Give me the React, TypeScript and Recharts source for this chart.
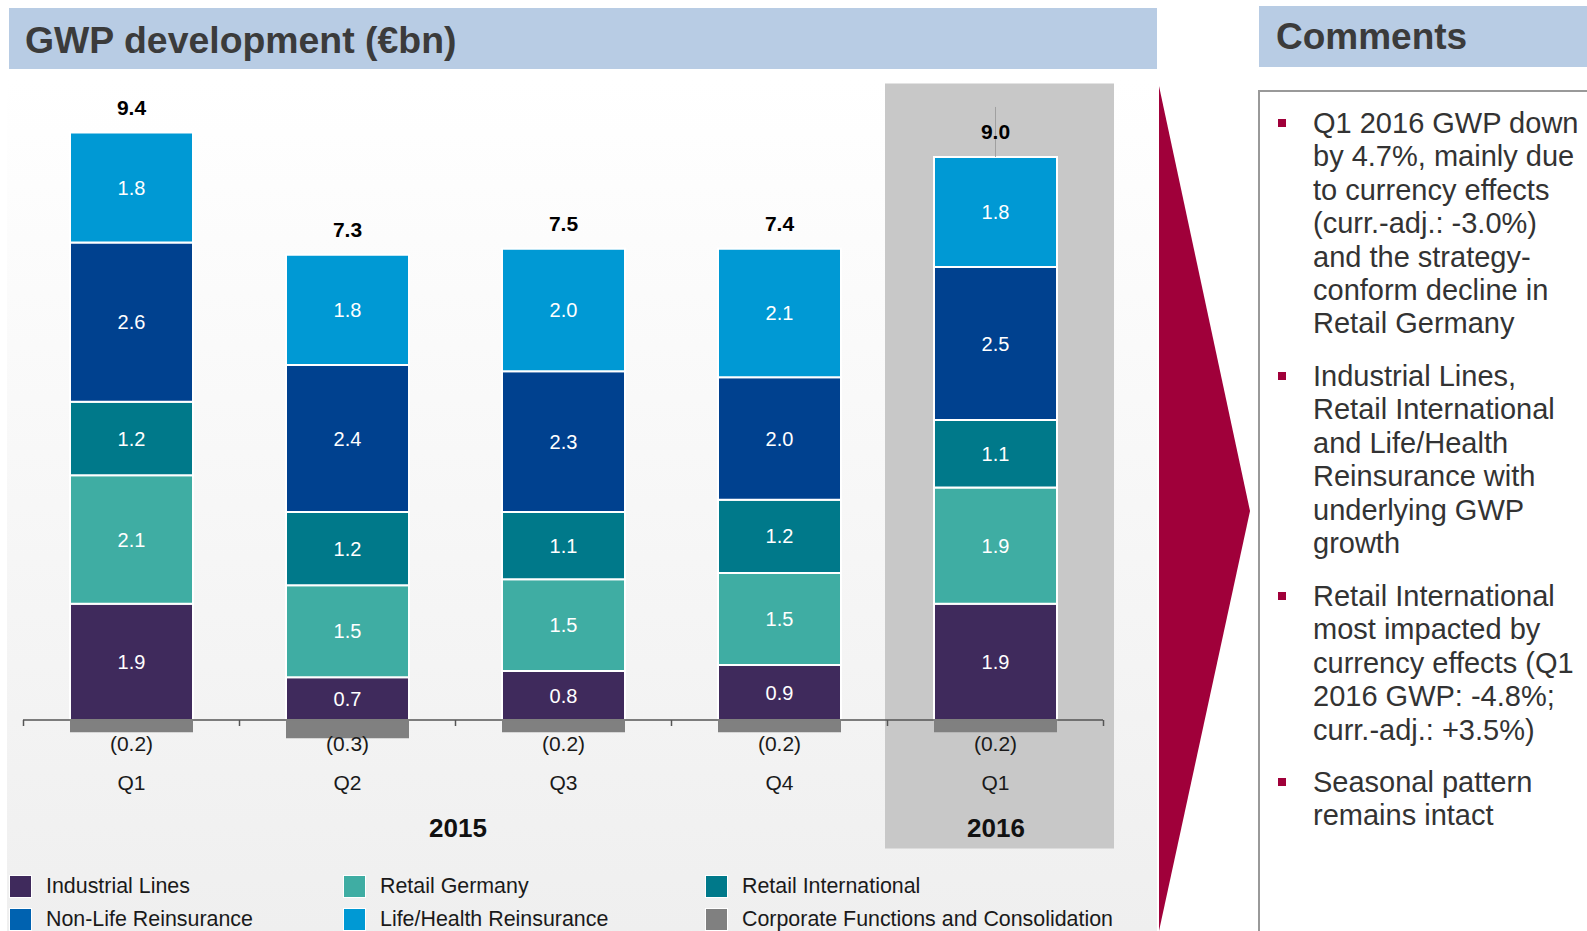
import { BarChart, Bar, XAxis, YAxis, ReferenceLine, ReferenceArea, LabelList, Label } from "recharts"

const quarters = ["Q1 2015", "Q2 2015", "Q3 2015", "Q4 2015", "Q1 2016"]
const quarterLabels = ["Q1", "Q2", "Q3", "Q4", "Q1"]
const industrialLines = [1.9, 0.7, 0.8, 0.9, 1.9]
const retailGermany = [2.1, 1.5, 1.5, 1.5, 1.9]
const retailInternational = [1.2, 1.2, 1.1, 1.2, 1.1]
const nonLifeReinsurance = [2.6, 2.4, 2.3, 2.0, 2.5]
const lifeHealthReinsurance = [1.8, 1.8, 2.0, 2.1, 1.8]
const corporateFunctions = [-0.2, -0.3, -0.2, -0.2, -0.2]
const totals = [9.4, 7.3, 7.5, 7.4, 9.0]

const legendRows = [
  [
    { name: "Industrial Lines", color: "#3f2a5c" },
    { name: "Retail Germany", color: "#3fada3" },
    { name: "Retail International", color: "#00798a" },
  ],
  [
    { name: "Non-Life Reinsurance", color: "#0062b0" },
    { name: "Life/Health Reinsurance", color: "#0099d4" },
    { name: "Corporate Functions and Consolidation", color: "#808080" },
  ],
]

const comments = [
  ["Q1 2016 GWP down", "by 4.7%, mainly due", "to currency effects", "(curr.-adj.: -3.0%)", "and the strategy-", "conform decline in", "Retail Germany"],
  ["Industrial Lines,", "Retail International", "and Life/Health", "Reinsurance with", "underlying GWP", "growth"],
  ["Retail International", "most impacted by", "currency effects (Q1", "2016 GWP: -4.8%;", "curr.-adj.: +3.5%)"],
  ["Seasonal pattern", "remains intact"],
]
const commentTops = [107, 360, 580, 766]

const data = quarters.map((quarter, i) => ({
  quarter,
  industrial: industrialLines[i],
  retailDe: retailGermany[i],
  retailIntl: retailInternational[i],
  nonLife: nonLifeReinsurance[i],
  lifeHealth: lifeHealthReinsurance[i],
  corporate: corporateFunctions[i],
}))

const CHART_W = 1160
const MARGIN = { top: 83.5, right: 57, bottom: 82.5, left: 23 }
const BAR_W = 123
const BAND = (CHART_W - MARGIN.left - MARGIN.right) / quarters.length

const FONT = "'Liberation Sans', Arial, sans-serif"

function box(props: any) {
  const vb = props.viewBox && props.viewBox.width !== undefined ? props.viewBox : props
  return { x: Number(vb.x), y: Number(vb.y), width: Number(vb.width), height: Number(vb.height) }
}

function TotalLabel(props: any) {
  const { x, y, width, height } = box(props)
  const index = props.index
  const cx = x + width / 2
  const top = Math.min(y, y + (height || 0))
  return (
    <g>
      {index === totals.length - 1 && (
        <line x1={cx} x2={cx} y1={top - 50} y2={top} stroke="#a0a0a0" strokeWidth={1} />
      )}
      <text x={cx} y={top - 25} textAnchor="middle" dominantBaseline="central" fontSize={21} fontWeight="bold" fill="#000">
        {totals[index].toFixed(1)}
      </text>
    </g>
  )
}

function AxisLabel(props: any) {
  const { x, y, width, height } = box(props)
  const index = props.index
  const zeroY = Math.min(y, y + height)
  const cx = x + width / 2
  const gap = (BAND - width) / 2
  return (
    <g>
      <line x1={x - gap} x2={x - gap} y1={zeroY} y2={zeroY + 6} stroke="#555" strokeWidth={1.5} />
      {index === quarters.length - 1 && (
        <line x1={x + width + gap} x2={x + width + gap} y1={zeroY} y2={zeroY + 6} stroke="#555" strokeWidth={1.5} />
      )}
      <text x={cx} y={zeroY + 24} textAnchor="middle" dominantBaseline="central" fontSize={21} fill="#1a1a1a">
        ({Math.abs(corporateFunctions[index]).toFixed(1)})
      </text>
      <text x={cx} y={zeroY + 63} textAnchor="middle" dominantBaseline="central" fontSize={21} fill="#1a1a1a">
        {quarterLabels[index]}
      </text>
    </g>
  )
}

// highlight box for 2016 is a little wider than its band
function HighlightShape(props: any) {
  const { x, y, width, height } = props
  return <rect x={x - 2} y={y} width={width + 13} height={height} fill="#c8c8c8" />
}

const segLabel = {
  position: "center" as const,
  fill: "#fff",
  stroke: "none",
  fontSize: 20,
  formatter: (v: any) => Number(v).toFixed(1),
}

export default function App() {
  return (
    <div style={{ position: "absolute", left: 0, top: 0, width: 1587, height: 931, overflow: "hidden", background: "#fff", fontFamily: FONT }}>
      {/* title bar */}
      <div style={{ position: "absolute", left: 9, top: 8, width: 1148, height: 61, background: "#b8cce4" }} />
      <div style={{ position: "absolute", left: 25, top: 8, height: 61, paddingTop: 3, boxSizing: "border-box", display: "flex", alignItems: "center", fontSize: 37.4, fontWeight: "bold", color: "#3b3b3b", whiteSpace: "nowrap" }}>
        GWP development (€bn)
      </div>

      {/* chart panel */}
      <div style={{ position: "absolute", left: 7, top: 79, width: 1150, height: 852, background: "linear-gradient(#ffffff, #efefef)" }} />

      <div style={{ position: "absolute", left: 0, top: 0 }}>
        <BarChart width={CHART_W} height={931} data={data} margin={MARGIN} stackOffset="sign" barSize={BAR_W}>
          <XAxis dataKey="quarter" hide />
          <YAxis hide domain={[-2.1, 10.4]} allowDataOverflow />
          <ReferenceArea x1="Q1 2016" x2="Q1 2016" fill="#c8c8c8" fillOpacity={1} stroke="none" shape={HighlightShape}>
            <Label value="2016" position="insideBottom" offset={12} dx={1} fontSize={26} fontWeight="bold" fill="#111" />
          </ReferenceArea>
          <ReferenceArea x1="Q1 2015" x2="Q4 2015" fill="none" fillOpacity={0} stroke="none">
            <Label value="2015" position="insideBottom" offset={12} dx={3} fontSize={26} fontWeight="bold" fill="#111" />
          </ReferenceArea>
          <Bar dataKey="corporate" stackId="gwp" fill="#808080" isAnimationActive={false}>
            <LabelList dataKey="corporate" content={AxisLabel} />
          </Bar>
          <Bar dataKey="industrial" stackId="gwp" fill="#3f2a5c" stroke="#fff" strokeWidth={2} isAnimationActive={false}>
            <LabelList dataKey="industrial" {...segLabel} />
          </Bar>
          <Bar dataKey="retailDe" stackId="gwp" fill="#3fada3" stroke="#fff" strokeWidth={2} isAnimationActive={false}>
            <LabelList dataKey="retailDe" {...segLabel} />
          </Bar>
          <Bar dataKey="retailIntl" stackId="gwp" fill="#00798a" stroke="#fff" strokeWidth={2} isAnimationActive={false}>
            <LabelList dataKey="retailIntl" {...segLabel} />
          </Bar>
          <Bar dataKey="nonLife" stackId="gwp" fill="#00418f" stroke="#fff" strokeWidth={2} isAnimationActive={false}>
            <LabelList dataKey="nonLife" {...segLabel} />
          </Bar>
          <Bar dataKey="lifeHealth" stackId="gwp" fill="#0099d4" stroke="#fff" strokeWidth={2} isAnimationActive={false}>
            <LabelList dataKey="lifeHealth" {...segLabel} />
            <LabelList dataKey="lifeHealth" content={TotalLabel} />
          </Bar>
          <ReferenceLine y={0} stroke="#555" strokeWidth={1.5} />
        </BarChart>
      </div>

      {/* legend */}
      {legendRows.map((row, r) =>
        row.map((item, c) => (
          <div key={item.name} style={{ position: "absolute", left: [10, 344, 706][c], top: [876, 909][r], height: 21, display: "flex", alignItems: "center", whiteSpace: "nowrap" }}>
            <div style={{ width: 21, height: 21, background: item.color, boxShadow: "0 0 0 1px #fff" }} />
            <div style={{ marginLeft: 15, fontSize: 21.4, color: "#1a1a1a" }}>{item.name}</div>
          </div>
        ))
      )}

      {/* arrow */}
      <svg style={{ position: "absolute", left: 0, top: 0 }} width={1587} height={931}>
        <polygon points="1159,86 1250,511 1159,931" fill="#a0003a" />
      </svg>

      {/* comments */}
      <div style={{ position: "absolute", left: 1259, top: 6, width: 328, height: 61, background: "#b8cce4" }} />
      <div style={{ position: "absolute", left: 1276, top: 6, height: 61, display: "flex", alignItems: "center", fontSize: 37, fontWeight: "bold", color: "#3b3b3b" }}>
        Comments
      </div>
      <div style={{ position: "absolute", left: 1258, top: 90, width: 340, height: 860, borderLeft: "2px solid #999", borderTop: "2px solid #999", background: "#fff" }} />
      {comments.map((lines, i) => (
        <div key={i} style={{ position: "absolute", left: 1278, top: commentTops[i] }}>
          <div style={{ position: "absolute", left: 0, top: 11.5, width: 8, height: 8, background: "#a0003a" }} />
          <div style={{ position: "absolute", left: 35, top: 0, fontSize: 29, lineHeight: "33.4px", color: "#333", whiteSpace: "nowrap" }}>
            {lines.map((l, j) => (
              <div key={j}>{l}</div>
            ))}
          </div>
        </div>
      ))}
    </div>
  )
}
